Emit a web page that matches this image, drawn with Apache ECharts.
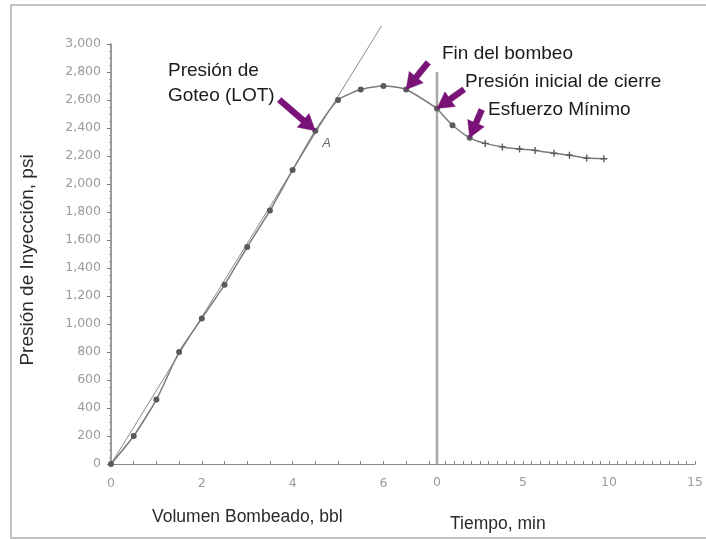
<!DOCTYPE html>
<html>
<head>
<meta charset="utf-8">
<title>Prueba de goteo (LOT)</title>
<script src="https://cdn.jsdelivr.net/npm/echarts@6/dist/echarts.min.js"></script>
<style>
  html, body { margin: 0; padding: 0; background: #fff; }
  #chart { width: 706px; height: 539px; }
</style>
</head>
<body>
<div id="chart"></div>
<script>
// Bombeo: volumen bombeado (bbl) vs presión de inyección (psi)
const pumpVolBbl = [0, 0.5, 1, 1.5, 2, 2.5, 3, 3.5, 4, 4.5, 5, 5.5, 6, 6.5];
const pumpPsi    = [0, 200, 460, 800, 1040, 1280, 1550, 1810, 2100, 2380, 2600, 2675, 2700, 2675];

// Cierre: tiempo (min) vs presión (psi)
const shutTimeMin = [0, 0.9, 1.9, 2.8, 3.8, 4.8, 5.7, 6.8, 7.7, 8.7, 9.7];
const shutPsi     = [2540, 2420, 2330, 2290, 2265, 2250, 2240, 2220, 2205, 2185, 2180];

// Recta de tendencia lineal del bombeo
const trendVolBbl = [0, 5.96];
const trendPsi    = [0, 3130];

// Línea vertical de fin de bombeo / inicio del cierre
const shutLineMin = [0, 0];
const shutLinePsi = [0, 2800];

// Ejes
const volLabels  = [0, 2, 4, 6];
const timeLabels = [0, 5, 10, 15];
const psiMin = 0, psiMax = 3000, psiStep = 200;
const volMax = 7.18, timeMax = 15;

const chart = echarts.init(document.getElementById('chart'), null, { renderer: 'canvas' });

const tickFont = { fontFamily: 'DejaVu Sans', fontSize: 12.5, color: '#9a9a9a' };
const plusPath = 'path://M4,0 L6,0 L6,4 L10,4 L10,6 L6,6 L6,10 L4,10 L4,6 L0,6 L0,4 L4,4 Z';

const pumpData = pumpVolBbl.map((v, i) => [v, pumpPsi[i]]);
// el trazo continúa hasta el inicio del eje de tiempo
pumpData.push({ value: [volMax, shutPsi[0]], symbol: 'none' });

const shutData = shutTimeMin.map((t, i) => ({
  value: [t, shutPsi[i]],
  symbol: i < 3 ? 'circle' : plusPath,
  symbolSize: i < 3 ? 6 : 7
}));

const gridTop = 44, gridHeight = 420;

chart.setOption({
  animation: false,
  backgroundColor: '#fff',
  grid: [
    { left: 111, top: gridTop, width: 326, height: gridHeight },
    { left: 437, top: gridTop, width: 265, height: gridHeight }
  ],
  xAxis: [
    {
      gridIndex: 0, type: 'value', min: 0, max: volMax, interval: 0.5,
      axisLine: { lineStyle: { color: '#8a8a8a', width: 1 } },
      axisTick: { inside: true, length: 3, lineStyle: { color: '#8a8a8a' } },
      axisLabel: Object.assign({
        margin: 13,
        formatter: v => volLabels.includes(v) ? String(v) : ''
      }, tickFont),
      splitLine: { show: false }
    },
    {
      gridIndex: 1, type: 'value', min: 0, max: timeMax, interval: 0.5,
      axisLine: { lineStyle: { color: '#8a8a8a', width: 1 } },
      axisTick: { inside: true, length: 3, lineStyle: { color: '#8a8a8a' } },
      axisLabel: Object.assign({
        margin: 12,
        formatter: v => timeLabels.includes(v) ? String(v) : ''
      }, tickFont),
      splitLine: { show: false }
    }
  ],
  yAxis: [
    {
      gridIndex: 0, type: 'value', min: psiMin, max: psiMax, interval: psiStep,
      axisLine: { show: true, lineStyle: { color: '#7a7a7a', width: 1.5 } },
      axisTick: { show: true, length: 4, lineStyle: { color: '#7a7a7a' } },
      minorTick: { show: true, splitNumber: 4, length: 2, lineStyle: { color: '#9a9a9a' } },
      axisLabel: Object.assign({
        margin: 10,
        formatter: v => v.toLocaleString('en-US')
      }, tickFont),
      splitLine: { show: false }
    },
    {
      gridIndex: 1, type: 'value', min: psiMin, max: psiMax, interval: psiStep,
      show: false
    }
  ],
  series: [
    {
      name: 'Cierre (línea)',
      type: 'line', xAxisIndex: 1, yAxisIndex: 1,
      data: shutLineMin.map((t, i) => [t, shutLinePsi[i]]),
      symbol: 'none', clip: false, z: 1,
      lineStyle: { color: '#a8a8a8', width: 2.5 }
    },
    {
      name: 'Tendencia',
      type: 'line', xAxisIndex: 0, yAxisIndex: 0,
      data: trendVolBbl.map((v, i) => [v, trendPsi[i]]),
      symbol: 'none', clip: false, z: 2,
      lineStyle: { color: '#8a8a8a', width: 1 }
    },
    {
      name: 'Bombeo',
      type: 'line', xAxisIndex: 0, yAxisIndex: 0,
      data: pumpData,
      symbol: 'circle', symbolSize: 6, z: 3, smooth: 0.2,
      lineStyle: { color: '#7a7a7a', width: 1.5 },
      itemStyle: { color: '#5a5a5a' }
    },
    {
      name: 'Cierre',
      type: 'line', xAxisIndex: 1, yAxisIndex: 1,
      data: shutData, z: 3, smooth: 0.2,
      lineStyle: { color: '#7a7a7a', width: 1.5 },
      itemStyle: { color: '#5a5a5a' }
    }
  ]
});

// Flechas de anotación: punta sobre el punto de datos, cola desplazada en píxeles
function arrowPoints(tip, tail) {
  const dx = tip[0] - tail[0], dy = tip[1] - tail[1];
  const len = Math.hypot(dx, dy);
  const ux = dx / len, uy = dy / len;
  const nx = -uy, ny = ux;
  const headLen = 16, headHalf = 9, shaftHalf = 3;
  const bx = tip[0] - ux * headLen, by = tip[1] - uy * headLen;
  return [
    [tail[0] + nx * shaftHalf, tail[1] + ny * shaftHalf],
    [bx + nx * shaftHalf, by + ny * shaftHalf],
    [bx + nx * headHalf, by + ny * headHalf],
    [tip[0], tip[1]],
    [bx - nx * headHalf, by - ny * headHalf],
    [bx - nx * shaftHalf, by - ny * shaftHalf],
    [tail[0] - nx * shaftHalf, tail[1] - ny * shaftHalf]
  ];
}

const lotIdx = 9, endPumpIdx = 13, minStressIdx = 2;
const lotTip = chart.convertToPixel({ gridIndex: 0 }, [pumpVolBbl[lotIdx], pumpPsi[lotIdx]]);
const endTip = chart.convertToPixel({ gridIndex: 0 }, [pumpVolBbl[endPumpIdx], pumpPsi[endPumpIdx]]);
const isipTip = chart.convertToPixel({ gridIndex: 1 }, [shutTimeMin[0], shutPsi[0]]);
const minTip = chart.convertToPixel({ gridIndex: 1 }, [shutTimeMin[minStressIdx], shutPsi[minStressIdx]]);

const arrows = [
  [lotTip, [lotTip[0] - 36, lotTip[1] - 31]],
  [endTip, [endTip[0] + 22, endTip[1] - 27]],
  [isipTip, [isipTip[0] + 27, isipTip[1] - 19]],
  [minTip, [minTip[0] + 12, minTip[1] - 28]]
];

const purple = '#7a1378';
const annFont = { fontFamily: 'Liberation Sans, Arial, sans-serif', fontSize: 19, fill: '#1a1a1a' };
const titleFont = { fontFamily: 'Liberation Sans, Arial, sans-serif', fontSize: 17.5, fill: '#2a2a2a' };

const graphics = [
  {
    type: 'rect', silent: true, z: 0,
    shape: { x: 11, y: 5, width: 710, height: 533 },
    style: { fill: null, stroke: '#c4c4c4', lineWidth: 2 }
  },
  {
    type: 'text', left: 168, top: 58,
    style: Object.assign({ text: 'Presión de\nGoteo (LOT)', lineHeight: 25 }, annFont)
  },
  {
    type: 'text', x: 442, y: 54,
    style: Object.assign({ text: 'Fin del bombeo', verticalAlign: 'middle' }, annFont)
  },
  {
    type: 'text', x: 465, y: 82,
    style: Object.assign({ text: 'Presión inicial de cierre', verticalAlign: 'middle' }, annFont)
  },
  {
    type: 'text', x: 488, y: 110,
    style: Object.assign({ text: 'Esfuerzo Mínimo', verticalAlign: 'middle' }, annFont)
  },
  {
    type: 'text', x: lotTip[0] + 7, y: lotTip[1] + 6,
    style: { text: 'A', fontFamily: 'Liberation Sans, Arial, sans-serif', fontSize: 13, fill: '#666', fontStyle: 'italic' }
  },
  {
    type: 'text', x: 152, y: 517,
    style: Object.assign({ text: 'Volumen Bombeado, bbl', verticalAlign: 'middle' }, titleFont)
  },
  {
    type: 'text', x: 450, y: 524,
    style: Object.assign({ text: 'Tiempo, min', verticalAlign: 'middle' }, titleFont)
  },
  {
    type: 'text', x: 28, y: 260, rotation: Math.PI / 2,
    style: Object.assign({ text: 'Presión de Inyección, psi', align: 'center', verticalAlign: 'middle' },
      titleFont, { fontSize: 19 })
  }
];

arrows.forEach(([tip, tail]) => {
  graphics.push({
    type: 'polygon', z: 10,
    shape: { points: arrowPoints(tip, tail) },
    style: { fill: purple, stroke: purple, lineWidth: 0.5 }
  });
});

chart.setOption({ graphic: graphics });
</script>
</body>
</html>
